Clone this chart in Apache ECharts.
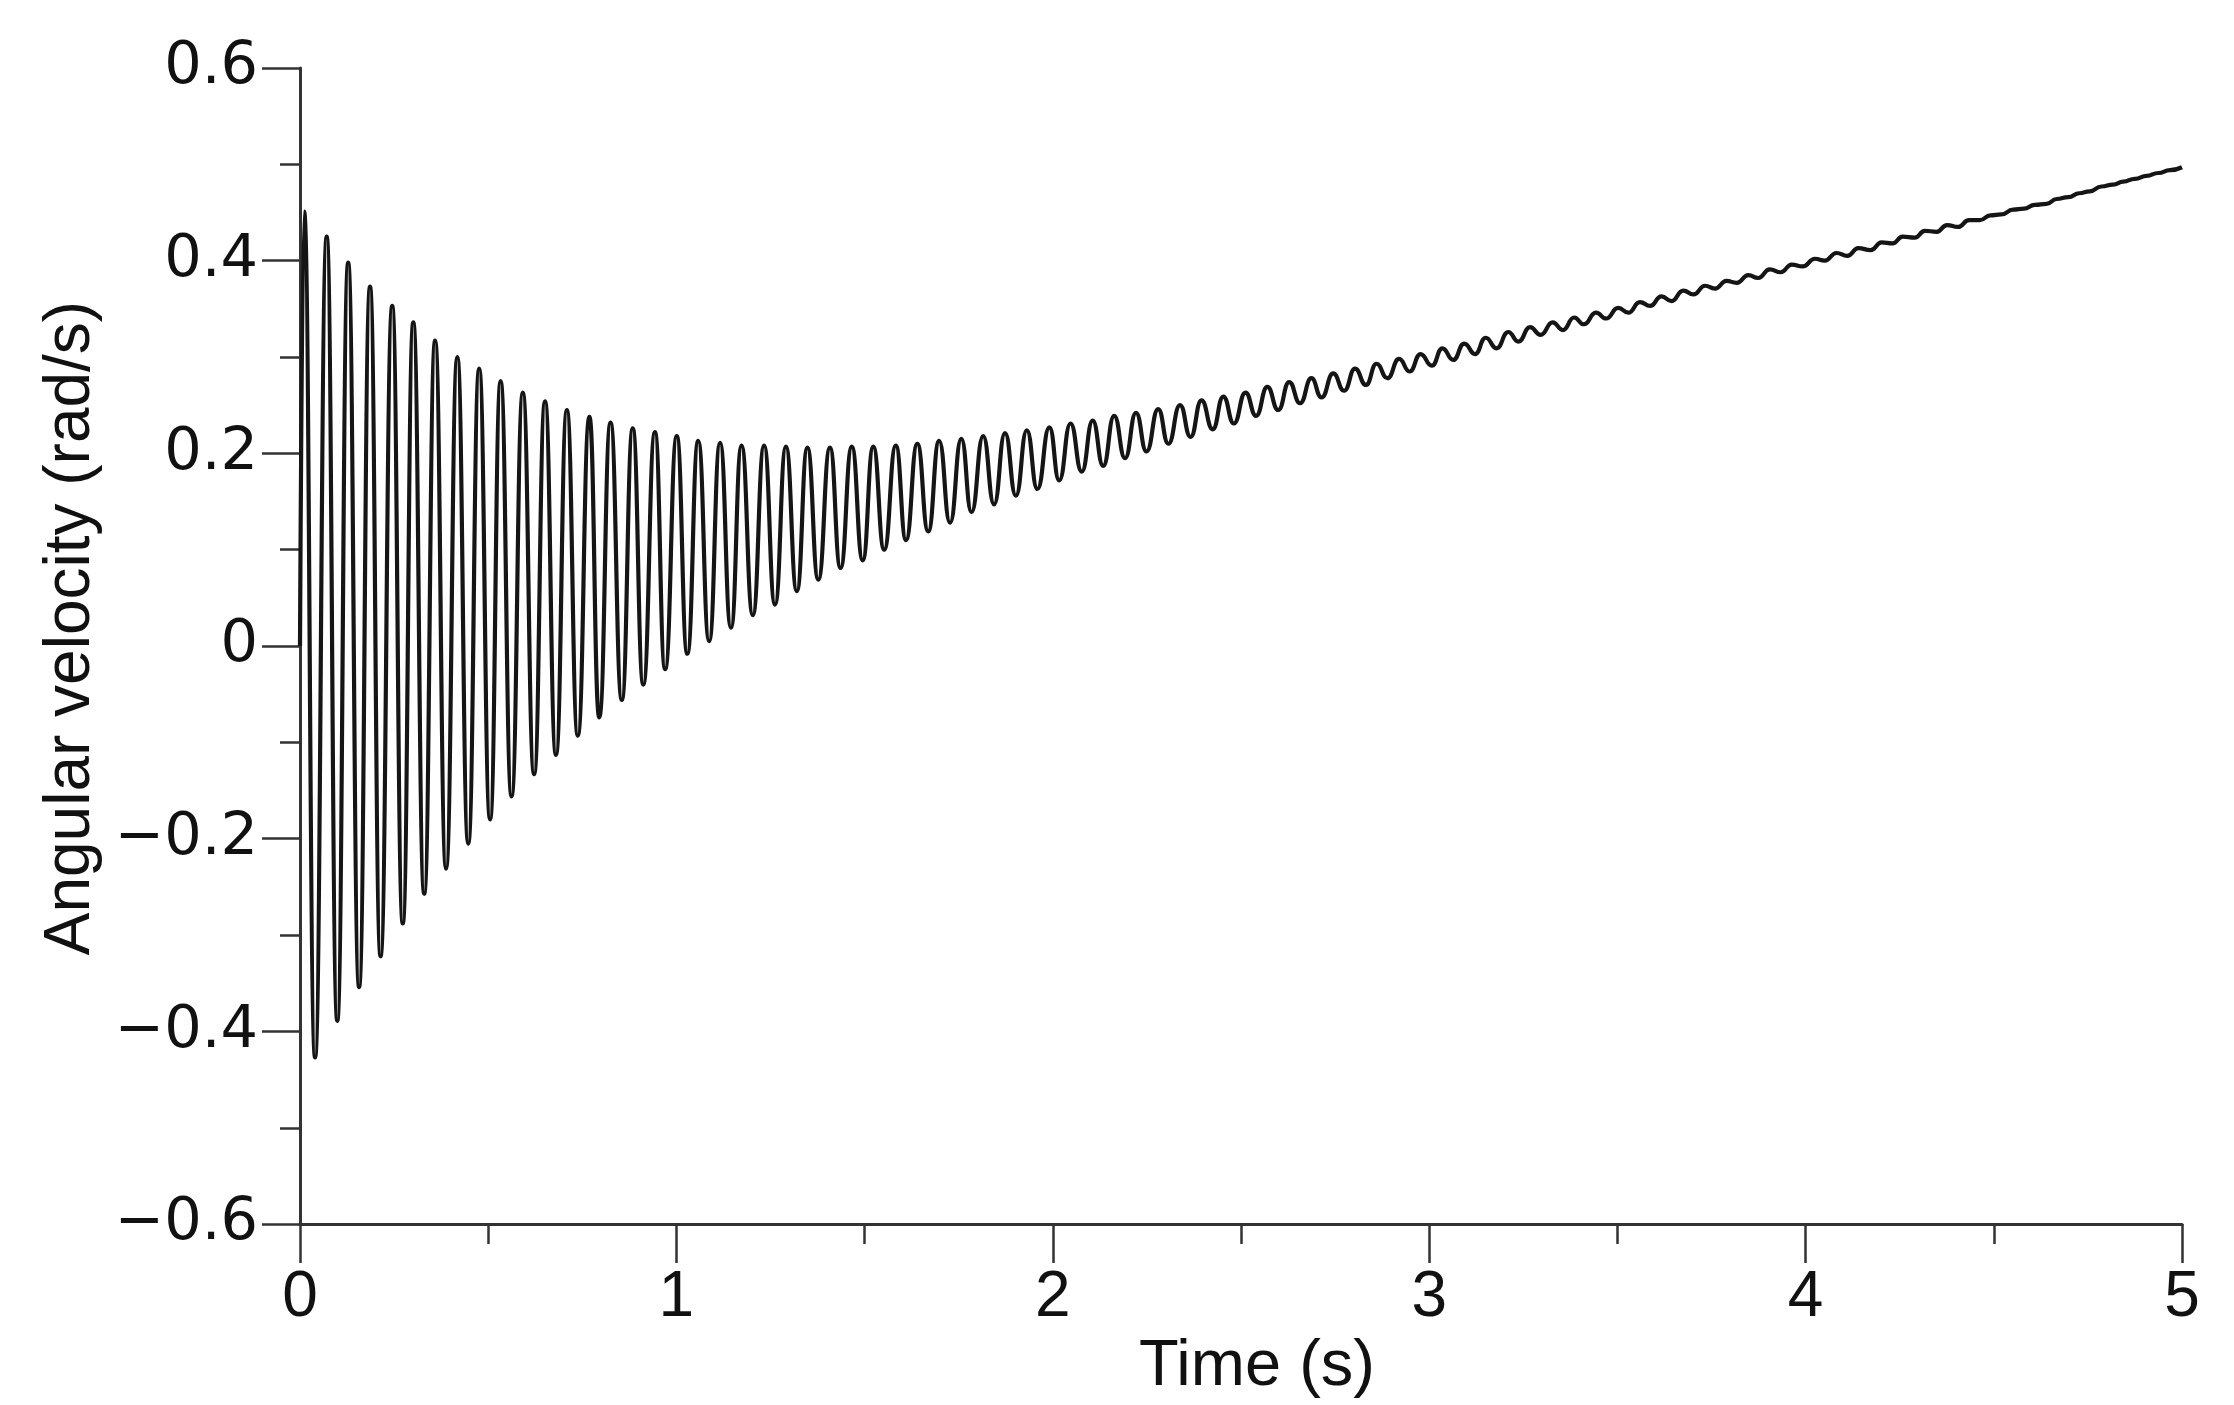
<!DOCTYPE html>
<html>
<head>
<meta charset="utf-8">
<script src="https://cdn.jsdelivr.net/npm/echarts@6/dist/echarts.min.js"></script>
<style>
html,body{margin:0;padding:0;background:#fff;}
#chart{width:2234px;height:1405px;}
</style>
</head>
<body>
<div id="chart"></div>
<script>
// Time (s) of each read point: start, then alternating peaks/troughs
const timeS = [
0.000,0.011,0.040,0.071,0.099,0.128,0.157,0.186,0.214,0.245,0.273,0.301,0.330,0.359,0.388,0.418,0.447,0.476,0.505,0.533,
0.562,0.592,0.622,0.651,0.680,0.709,0.738,0.769,0.795,0.825,0.855,0.884,0.912,0.943,0.970,1.001,1.029,1.058,1.087,1.116,
1.145,1.173,1.203,1.233,1.262,1.291,1.320,1.348,1.377,1.408,1.436,1.466,1.495,1.523,1.552,1.583,1.610,1.640,1.669,1.698,
1.727,1.757,1.784,1.815,1.844,1.873,1.902,1.931,1.959,1.991,2.017,2.047,2.077,2.106,2.134,2.163,2.192,2.221,2.249,2.280,
2.307,2.338,2.366,2.395,2.425,2.453,2.481,2.512,2.540,2.570,2.599,2.628,2.657,2.687,2.714,2.745,2.774,2.803,2.832,2.860,
2.889,2.920,2.948,2.977,3.007,3.035,3.064,3.093,3.122,3.150,3.179,3.210,3.237,3.268,3.296,3.328,3.355,3.385,3.411,3.443,
3.470,3.502,3.529,3.560,3.587,3.617,3.644,3.675,3.702,3.733,3.759,3.790,3.817,3.848,3.874,3.905,3.934,3.963,3.992,4.025,
4.051,4.082,4.111,4.140,4.173,4.202,4.231,4.258,4.290,4.317,4.348,4.376,4.405,4.434,4.463,4.491,4.520,4.551,4.580,4.609,
4.640,4.667,4.698,4.727,4.755,4.786,4.817,4.844,4.875,4.906,4.937,4.968,5.000
];
// Angular velocity (rad/s) read at those times
const angularVelocity = [
0.000,0.451,-0.427,0.425,-0.389,0.398,-0.354,0.373,-0.322,0.353,-0.288,0.336,-0.257,0.317,-0.231,0.300,-0.205,0.288,-0.180,0.275,
-0.156,0.263,-0.133,0.254,-0.113,0.245,-0.093,0.238,-0.074,0.232,-0.056,0.226,-0.040,0.222,-0.024,0.218,-0.008,0.213,0.005,0.211,
0.019,0.208,0.032,0.208,0.043,0.207,0.057,0.206,0.069,0.206,0.081,0.207,0.089,0.207,0.100,0.208,0.110,0.210,0.119,0.213,
0.128,0.215,0.139,0.218,0.147,0.221,0.156,0.224,0.163,0.227,0.172,0.231,0.181,0.234,0.187,0.239,0.195,0.242,0.202,0.246,
0.210,0.250,0.217,0.255,0.225,0.259,0.231,0.263,0.239,0.269,0.245,0.274,0.252,0.278,0.258,0.283,0.265,0.288,0.271,0.293,
0.278,0.298,0.285,0.303,0.291,0.309,0.297,0.314,0.303,0.320,0.309,0.326,0.316,0.331,0.323,0.336,0.328,0.341,0.334,0.346,
0.340,0.351,0.346,0.357,0.353,0.363,0.358,0.369,0.365,0.374,0.371,0.379,0.377,0.385,0.382,0.391,0.388,0.396,0.394,0.402,
0.400,0.408,0.405,0.413,0.411,0.419,0.418,0.425,0.424,0.431,0.430,0.437,0.435,0.442,0.442,0.447,0.448,0.453,0.454,0.458,
0.459,0.464,0.466,0.470,0.472,0.477,0.479,0.482,0.485,0.488,0.491,0.494,0.497
];
const xTickLabels = ['0','1','2','3','4','5'];
const yTickLabels = ['\u22120.6','\u22120.4','\u22120.2','0','0.2','0.4','0.6'];
const xTitle = 'Time (s)';
const yTitle = 'Angular velocity (rad/s)';

const FONT = "'Liberation Sans', Arial, Helvetica, sans-serif";
const WIDE = "'DejaVu Sans', 'Liberation Sans', sans-serif";
const axisColor = '#333';
const chart = echarts.init(document.getElementById('chart'), null, {renderer: 'canvas'});
chart.setOption({
  animation: false,
  backgroundColor: '#fff',
  grid: {left: 300, right: 52, top: 68, bottom: 177, containLabel: false},
  xAxis: {
    type: 'value', min: 0, max: 5, interval: 1,
    name: xTitle, nameLocation: 'middle', nameGap: 54,
    nameTextStyle: {fontFamily: FONT, fontSize: 65, color: '#111', padding: [0, 0, 0, 32]},
    axisLine: {show: true, onZero: false, lineStyle: {color: axisColor, width: 3}},
    axisTick: {show: true, inside: false, length: 39, lineStyle: {color: axisColor, width: 2.5}},
    minorTick: {show: true, splitNumber: 2, length: 20, lineStyle: {color: axisColor, width: 2.5}},
    splitLine: {show: false}, minorSplitLine: {show: false},
    axisLabel: {
      margin: 42, fontFamily: FONT, fontSize: 64, color: '#111',
      formatter: v => xTickLabels[Math.round(v)]
    }
  },
  yAxis: {
    type: 'value', min: -0.6, max: 0.6, interval: 0.2,
    name: yTitle, nameLocation: 'middle', nameGap: 182, nameRotate: 90,
    nameTextStyle: {fontFamily: FONT, fontSize: 64, color: '#111', padding: [0, 0, 0, 36]},
    axisLine: {show: true, onZero: false, lineStyle: {color: axisColor, width: 3}},
    axisTick: {show: true, inside: false, length: 38, lineStyle: {color: axisColor, width: 2.5}},
    minorTick: {show: true, splitNumber: 2, length: 20, lineStyle: {color: axisColor, width: 2.5}},
    splitLine: {show: false}, minorSplitLine: {show: false},
    axisLabel: {
      margin: 42, fontFamily: WIDE, fontSize: 59, color: '#111',
      formatter: v => yTickLabels[Math.round((v + 0.6) / 0.2)]
    }
  },
  series: [{
    type: 'line',
    data: timeS.map((t, i) => [t, angularVelocity[i]]),
    showSymbol: false,
    smooth: 0.5,
    smoothMonotone: 'x',
    lineStyle: {color: '#151515', width: 4.2},
    silent: true
  }]
});
</script>
</body>
</html>
